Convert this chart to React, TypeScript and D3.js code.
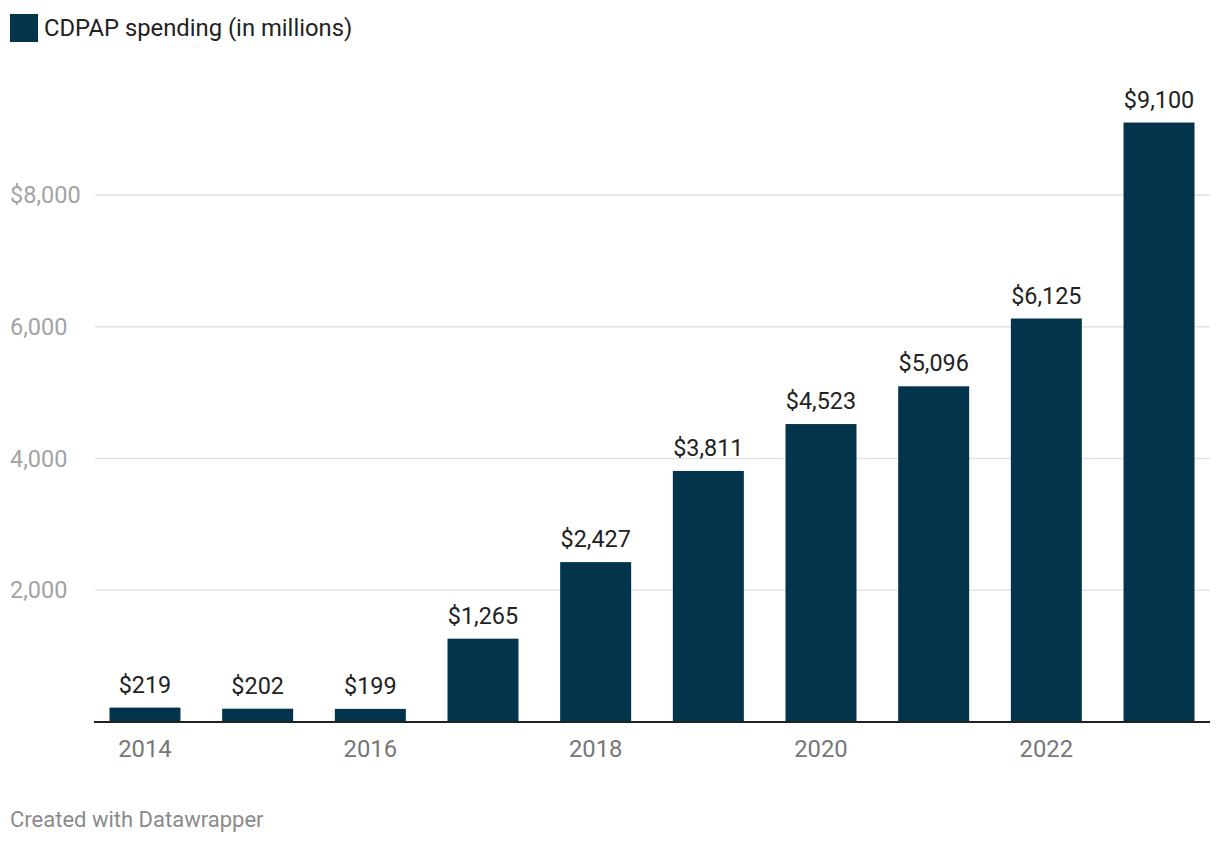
import React from "react";
import * as d3 from "d3";

const years = ["2014", "2015", "2016", "2017", "2018", "2019", "2020", "2021", "2022", "2023"];
const spending = [219, 202, 199, 1265, 2427, 3811, 4523, 5096, 6125, 9100];
const yTicks = [2000, 4000, 6000, 8000];
const xTickLabels = ["2014", "2016", "2018", "2020", "2022"];
const legendLabel = "CDPAP spending (in millions)";
const footer = "Created with Datawrapper";

const W = 1220;
const H = 846;
const FONT = "Roboto, 'Noto Sans', sans-serif";
const BAR = "#02344b";

export default function App() {
  const x = d3.scaleBand<string>().domain(years).range([94, 1210]).paddingInner(0.37).paddingOuter(0.1375);
  const y = d3.scaleLinear().domain([0, 8000]).range([722, 195]);
  const fmt = d3.format(",");
  return (
    <svg width={W} height={H} style={{ position: "absolute", left: 0, top: 0, fontFamily: FONT }}>
      <rect x={0} y={0} width={W} height={H} fill="#fff" />
      <rect x={10} y={14} width={28} height={28} fill={BAR} />
      <text x={44} y={36} fontSize={23.8} fill="#222">{legendLabel}</text>
      {yTicks.map((t) => (
        <g key={t}>
          <line x1={95} x2={1210} y1={y(t)} y2={y(t)} stroke="#e3e3e3" strokeWidth={1.5} />
          <text x={10} y={y(t)} dy="0.35em" fontSize={23.5} fill="#a3a3a3">
            {t === 8000 ? "$" + fmt(t) : fmt(t)}
          </text>
        </g>
      ))}
      {years.map((yr, i) => (
        <g key={yr}>
          <rect x={x(yr)} y={y(spending[i])} width={x.bandwidth()} height={y(0) - y(spending[i])} fill={BAR} />
          <text x={(x(yr) as number) + x.bandwidth() / 2} y={y(spending[i]) - 15} textAnchor="middle" fontSize={23.4} fill="#222">
            {"$" + fmt(spending[i])}
          </text>
        </g>
      ))}
      <line x1={94} x2={1210} y1={y(0)} y2={y(0)} stroke="#222" strokeWidth={2} />
      {xTickLabels.map((yr) => (
        <text key={yr} x={(x(yr) as number) + x.bandwidth() / 2} y={757} textAnchor="middle" fontSize={23.8} fill="#777">
          {yr}
        </text>
      ))}
      <text x={10} y={827} fontSize={22} fill="#8a8a8a">{footer}</text>
    </svg>
  );
}
